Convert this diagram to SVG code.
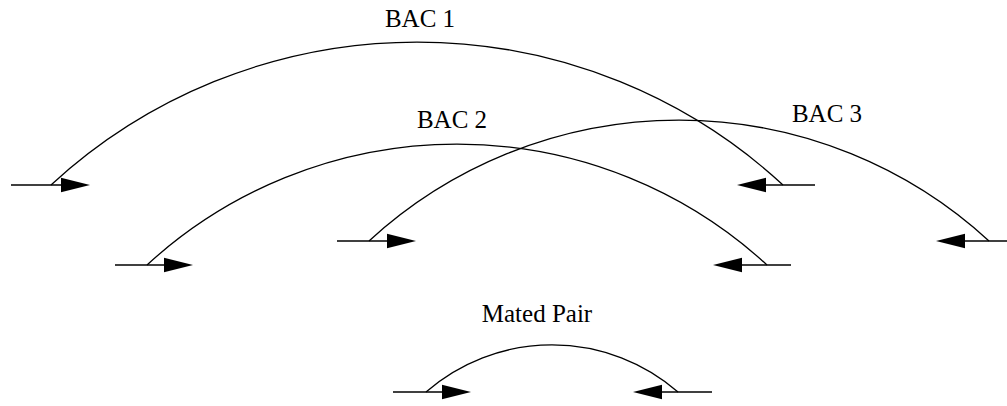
<svg xmlns="http://www.w3.org/2000/svg" xmlns:xlink="http://www.w3.org/1999/xlink" width="1007" height="406" viewBox="0 0 1007 406">
<style>
.arc{fill:none;stroke:#000;stroke-width:1.3}
.ln{fill:none;stroke:#000;stroke-width:1.5}
.lbl{font-family:"Liberation Serif","Times New Roman",serif;font-size:25px;fill:#000;text-anchor:middle}
</style>
<defs>
<polygon id="hR" points="0,0 -29,-7.3 -29,7.3" fill="#000"/>
<polygon id="hL" points="0,0 29,-7.3 29,7.3" fill="#000"/>
</defs>
<rect width="1007" height="406" fill="#fff"/>
<g id="connectors">
<g id="bac1">
<path class="arc" d="M51,185 A540,540 0 0 1 783,185"/>
<line class="ln" x1="11" y1="185" x2="86" y2="185"/>
<use xlink:href="#hR" x="90" y="185"/>
<line class="ln" x1="741" y1="185" x2="815" y2="185"/>
<use xlink:href="#hL" x="737" y="185"/>
</g>
<g id="bac2">
<path class="arc" d="M147,265 A458,458 0 0 1 767,265"/>
<line class="ln" x1="115" y1="265" x2="189" y2="265"/>
<use xlink:href="#hR" x="193" y="265"/>
<line class="ln" x1="717" y1="265" x2="791" y2="265"/>
<use xlink:href="#hL" x="713" y="265"/>
</g>
<g id="bac3">
<path class="arc" d="M369,241 A458,458 0 0 1 989,241"/>
<line class="ln" x1="337" y1="241" x2="412" y2="241"/>
<use xlink:href="#hR" x="416" y="241"/>
<line class="ln" x1="940" y1="241" x2="1007" y2="241"/>
<use xlink:href="#hL" x="936" y="241"/>
</g>
<g id="mated">
<path class="arc" d="M426,392 A192,192 0 0 1 678,392"/>
<line class="ln" x1="393" y1="392" x2="467" y2="392"/>
<use xlink:href="#hR" x="471" y="392"/>
<line class="ln" x1="637" y1="392" x2="712" y2="392"/>
<use xlink:href="#hL" x="633" y="392"/>
</g>
</g>
<g id="label-bac1"><text class="lbl" x="420" y="27">BAC 1</text></g>
<g id="label-bac2"><text class="lbl" x="452" y="128">BAC 2</text></g>
<g id="label-bac3"><text class="lbl" x="827" y="122">BAC 3</text></g>
<g id="label-mated"><text class="lbl" x="537" y="322">Mated Pair</text></g>
</svg>
